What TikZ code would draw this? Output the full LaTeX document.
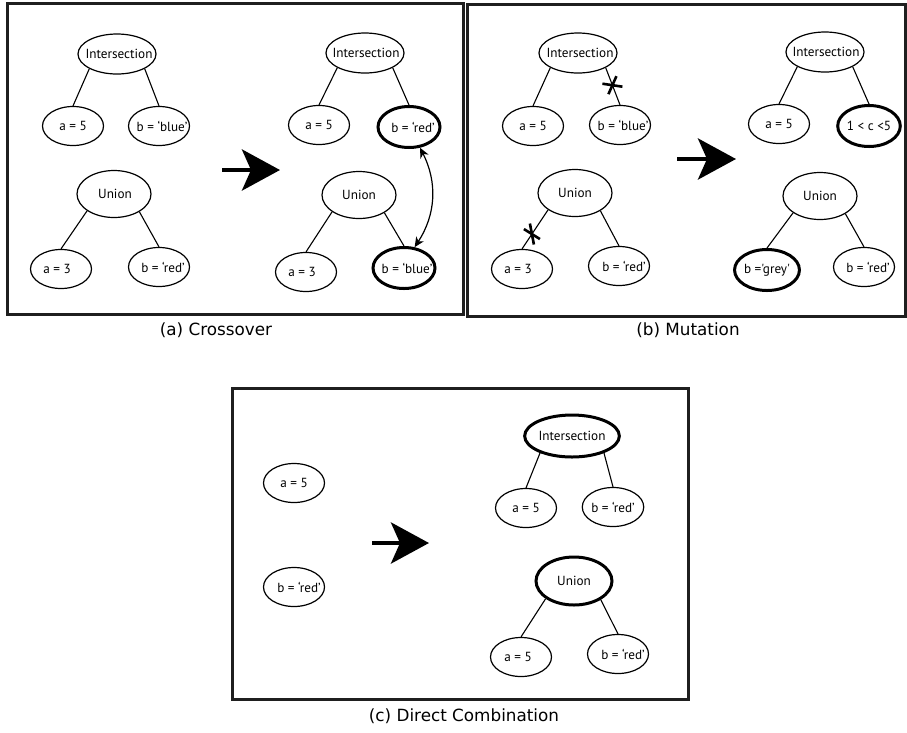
\documentclass[tikz,border=0pt]{standalone}
\usepackage{fontspec}
\setmainfont{DejaVu Sans}
\newfontfamily\lblfont{PT Sans}
\usetikzlibrary{shapes.geometric,arrows.meta}
\newcommand\tx[2]{\makebox[0pt]{\hspace*{#1}#2}}
\begin{document}
\begin{tikzpicture}[x=1pt,y=-1pt,
  el/.style={draw, ellipse, line width=1.2pt, inner sep=0pt, minimum width=61pt, minimum height=39pt, font=\lblfont\fontsize{13.2}{15}\selectfont},
  thk/.style={line width=3pt, minimum width=62pt, minimum height=41pt},
  inter/.style={el, minimum width=78pt, minimum height=40pt},
  uni/.style={el, minimum width=74pt, minimum height=47pt},
  edge/.style={line width=1.1pt},
  panel/.style={line width=3pt, draw=black!88},
  bigarrow/.style={line width=4.5pt, -{Stealth[length=38pt,width=41pt,inset=9pt]}},
  swaparrow/.style={line width=1.2pt, {Stealth[length=10pt,width=9pt,inset=3pt]}-{Stealth[length=10pt,width=9pt,inset=3pt]}},
  crossmark/.style={line width=2.6pt},
  captext/.style={font=\fontsize{16.8}{20}\selectfont, inner sep=0pt}
]
\useasboundingbox[fill=white] (0,0) rectangle (907,732);

% panel frames
\draw[panel] (7,3.5) rectangle (463,314.5);
\draw[panel] (467.5,4.5) rectangle (905.5,316);
\draw[panel] (232,388) rectangle (688,699);

% ---------------- (a) Crossover ----------------
\node[inter] (aI1) at (117,54) {\tx{4pt}{Intersection}};
\node[el] (aA1) at (73,126) {a = 5};
\node[el] (aB1) at (159,126) {\tx{6pt}{b = ‘blue’}};
\node[uni] (aU1) at (114,194) {\tx{2pt}{Union}};
\node[el] (aA3) at (61,269) {\tx{-8pt}{a = 3}};
\node[el] (aR1) at (159,267) {\tx{8pt}{b = ‘red’}};
\draw[edge] (aI1.208) -- (aA1.north);
\draw[edge] (aI1.332) -- (aB1.north);
\draw[edge] (aU1.212) -- (aA3.north);
\draw[edge] (aU1.325) -- (aR1.north);

\node[inter] (aI2) at (365,53) {\tx{2pt}{Intersection}};
\node[el] (aA2) at (319,125) {a = 5};
\node[el, thk] (aR2) at (409,127) {\tx{8pt}{b = ‘red’}};
\node[uni] (aU2) at (359,195) {Union};
\node[el] (aA4) at (306,272) {\tx{-8pt}{a = 3}};
\node[el, thk] (aB2) at (404,268) {\tx{6pt}{b = ‘blue’}};
\draw[edge] (aI2.208) -- (aA2.north);
\draw[edge] (aI2.332) -- (aR2.north);
\draw[edge] (aU2.212) -- (aA4.north);
\draw[edge] (aU2.325) -- (aB2.north);
\draw[swaparrow] (aR2.298) to[bend left=30] (aB2.63);

\coordinate (aS) at (222,170);
\coordinate (aT) at (280,170);
\draw[bigarrow] (aS) -- (aT);

\node[captext] (capA) at (216,330) {(a) Crossover};

% ---------------- (b) Mutation ----------------
\node[inter] (bI1) at (578,53) {\tx{4pt}{Intersection}};
\node[el] (bA1) at (533,126) {a = 5};
\node[el] (bB1) at (620,125) {\tx{6pt}{b = ‘blue’}};
\node[uni] (bU1) at (575,193) {Union};
\node[el] (bA3) at (522,269) {\tx{-8pt}{a = 3}};
\node[el] (bR1) at (619,266) {\tx{10pt}{b = ‘red’}};
\draw[edge] (bI1.208) -- (bA1.north);
\draw[edge] (bI1.332) -- coordinate[pos=0.47] (x1) (bB1.north);
\draw[edge] (bU1.212) -- coordinate[pos=0.62] (x2) (bA3.north);
\draw[crossmark] ([shift={(-10,-1.5)}]x1) -- ([shift={(10,1.5)}]x1);
\draw[crossmark] ([shift={(-4,9)}]x1) -- ([shift={(4,-9)}]x1);
\draw[crossmark] ([shift={(-2,-10.5)}]x2) -- ([shift={(2,10.5)}]x2);
\draw[crossmark] ([shift={(-8,-5)}]x2) -- ([shift={(8,5)}]x2);
\draw[edge] (bU1.325) -- (bR1.north);

\node[inter] (bI2) at (825,52) {\tx{2pt}{Intersection}};
\node[el] (bA2) at (779,124) {a = 5};
\node[el, thk] (bC) at (869,126) {1 < c <5};
\node[uni] (bU2) at (820,196) {Union};
\node[el, thk] (bG) at (767,270) {b ='grey'};
\node[el] (bR2) at (864,267) {\tx{8pt}{b = ‘red’}};
\draw[edge] (bI2.208) -- (bA2.north);
\draw[edge] (bI2.332) -- (bC.north);
\draw[edge] (bU2.212) -- (bG.north);
\draw[edge] (bU2.325) -- (bR2.north);

\coordinate (bS) at (677,159);
\coordinate (bT) at (736,159);
\draw[bigarrow] (bS) -- (bT);

\node[captext] (capB) at (688,330) {(b) Mutation};

% ---------------- (c) Direct Combination ----------------
\node[el] (cA0) at (294,483) {a = 5};
\node[el] (cR0) at (294,587) {\tx{10pt}{b = ‘red’}};

\node[inter, thk, minimum width=79pt, minimum height=42pt] (cI) at (572,436) {Intersection};
\node[el] (cA1) at (526,508) {a = 5};
\node[el] (cR1) at (613,507) {b = ‘red’};
\node[uni, thk, minimum width=76pt, minimum height=48pt] (cU) at (574,581) {Union};
\node[el] (cA2) at (521,657) {\tx{-6pt}{a = 5}};
\node[el] (cR2) at (618,654) {\tx{10pt}{b = ‘red’}};
\draw[edge] (cI.208) -- (cA1.north);
\draw[edge] (cI.332) -- (cR1.north);
\draw[edge] (cU.212) -- (cA2.north);
\draw[edge] (cU.325) -- (cR2.north);

\coordinate (cS) at (372,543);
\coordinate (cT) at (429,543);
\draw[bigarrow] (cS) -- (cT);

\node[captext] (capC) at (464,716) {(c) Direct Combination};
\end{tikzpicture}
\end{document}
